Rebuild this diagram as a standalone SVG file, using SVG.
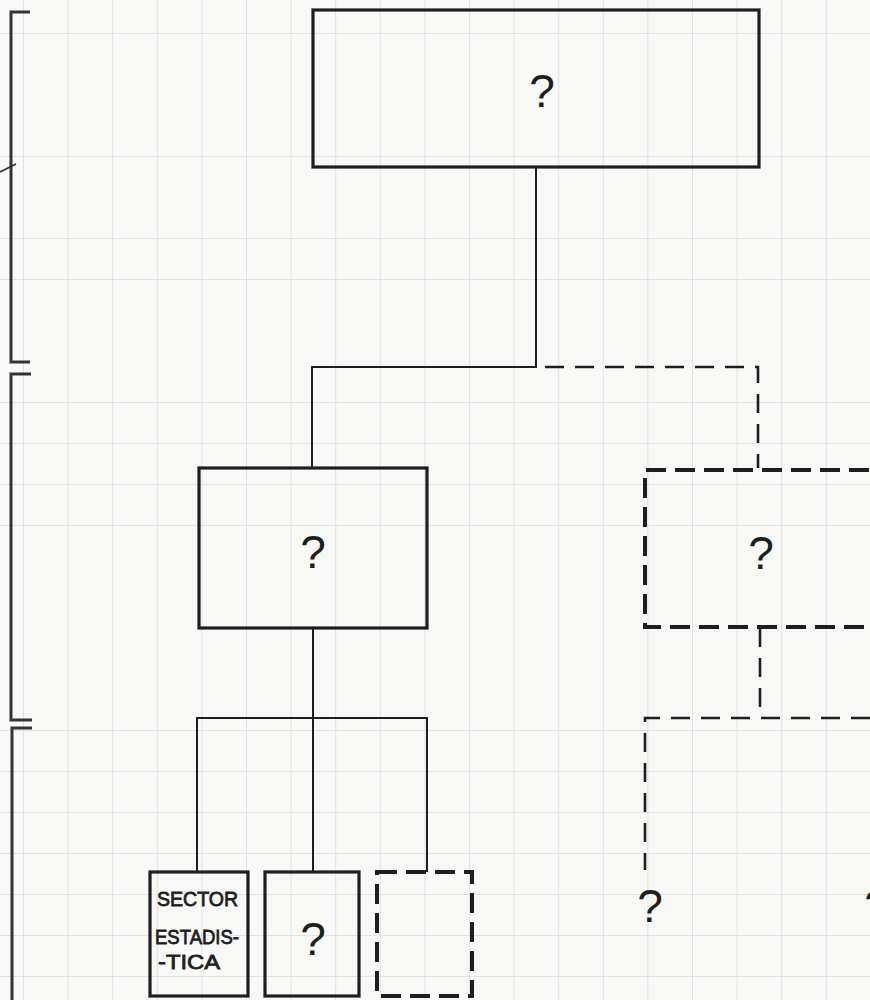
<svg xmlns="http://www.w3.org/2000/svg" width="870" height="1000" viewBox="0 0 870 1000">
<style>
.box{fill:none;stroke:#1e1e1e;stroke-width:3.2;stroke-linejoin:miter}
.dbox{fill:none;stroke:#1e1e1e;stroke-width:4;stroke-dasharray:20 9}
.ln{fill:none;stroke:#1e1e1e;stroke-width:2}
.dln{fill:none;stroke:#1e1e1e;stroke-width:2.6;stroke-dasharray:19 11}
.br{fill:none;stroke:#333;stroke-width:3}
.q{font-family:"Liberation Sans","DejaVu Sans",sans-serif;font-size:46px;fill:#1e1e1e;text-anchor:middle}
.t{font-family:"Liberation Sans","DejaVu Sans",sans-serif;font-size:21px;fill:#1e1e1e;stroke:#1e1e1e;stroke-width:0.8}
</style>
<defs>
<pattern id="grid" x="23" y="33" width="44.6" height="41" patternUnits="userSpaceOnUse">
<path d="M0 0H44.6M0 0V41" fill="none" stroke="#dcdcdc" stroke-width="1.6"/>
</pattern>
</defs>
<rect width="870" height="1000" fill="#f8f8f7"/>
<rect width="870" height="1000" fill="url(#grid)"/>
<g id="brackets">
<path class="br" d="M30 12H11V362H30"/>
<path class="br" d="M31 374H11V720H32"/>
<path class="br" d="M32 728H12V1000"/>
<path d="M0 172L16 164" stroke="#333" stroke-width="1.6" fill="none"/>
</g>
<g id="connectors">
<path class="ln" d="M536 168V367H312V468"/>
<path class="dln" d="M545 367H758V468"/>
<path class="ln" d="M313 629V718"/>
<path class="ln" d="M197 872V718H427V872"/>
<path class="ln" d="M313 718V872"/>
<path class="dln" d="M760 628V718"/>
<path class="dln" d="M870 718H645V870"/>
</g>
<g id="top">
<rect class="box" x="313" y="10" width="446" height="157"/>
<text class="q" x="542" y="107">?</text>
</g>
<g id="mid-left">
<rect class="box" x="199" y="468" width="228" height="160"/>
<text class="q" x="313" y="568">?</text>
</g>
<g id="mid-right">
<path class="dbox" d="M869 470H645V627H869"/>
<text class="q" x="761" y="569">?</text>
</g>
<g id="sector-estadistica">
<rect class="box" x="150" y="872" width="98" height="124"/>
<text class="t"><tspan x="157" y="906" textLength="81" lengthAdjust="spacingAndGlyphs">SECTOR</tspan><tspan x="155" y="944" textLength="84" lengthAdjust="spacingAndGlyphs">ESTADIS-</tspan><tspan x="158" y="969" textLength="62" lengthAdjust="spacingAndGlyphs">-TICA</tspan></text>
</g>
<g id="bottom-q">
<rect class="box" x="265" y="872" width="94" height="124"/>
<text class="q" x="313" y="955">?</text>
</g>
<g id="bottom-dashed">
<rect class="dbox" x="377" y="872" width="95" height="124"/>
</g>
<g id="lower-right-q">
<text class="q" x="650" y="922">?</text>
</g>
<g id="edge-q">
<text class="q" x="877" y="922">?</text>
</g>
</svg>
